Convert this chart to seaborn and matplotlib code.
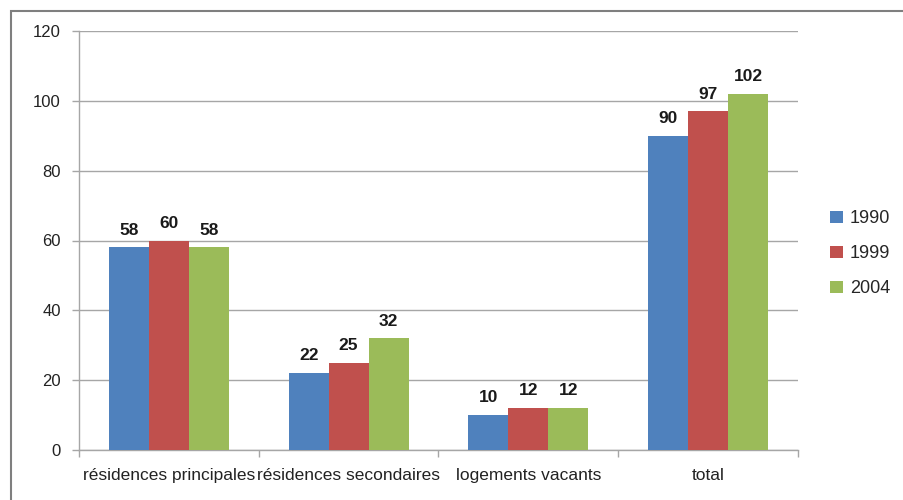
import numpy as np
import pandas as pd
import matplotlib
matplotlib.use("Agg")
import matplotlib.pyplot as plt
import seaborn as sns
from matplotlib.patches import Rectangle

# ------------------------------------------
# Data
# ------------------------------------------

categories = ["résidences principales", "résidences secondaires",
              "logements vacants", "total"]
years = ["1990", "1999", "2004"]
values_1990 = [58, 22, 10, 90]
values_1999 = [60, 25, 12, 97]
values_2004 = [58, 32, 12, 102]
yticks = [0, 20, 40, 60, 80, 100, 120]

colors = ["#4F81BD", "#C0504D", "#9BBB59"]

rows = []
for year, vals in zip(years, [values_1990, values_1999, values_2004]):
    for cat, v in zip(categories, vals):
        rows.append({"categorie": cat, "annee": year, "valeur": v})
df = pd.DataFrame(rows)

# ------------------------------------------
# Plot
# ------------------------------------------

sns.set_theme(style="white")
plt.rcParams["font.family"] = ["Liberation Sans", "DejaVu Sans"]

fig = plt.figure(figsize=(9.04, 5), dpi=100)
ax = fig.add_axes([79 / 904, 50 / 500, 719 / 904, 419 / 500])

sns.barplot(data=df, x="categorie", y="valeur", hue="annee",
            palette=colors, width=2 / 3, saturation=1,
            linewidth=0, ax=ax, zorder=3)

for cont in ax.containers:
    ax.bar_label(cont, padding=7, fontsize=12.5, fontweight="bold",
                 color="#1a1a1a")

ax.set_xlim(-0.5, 3.5)
ax.set_ylim(0, 120)
ax.set_yticks(yticks)
ax.set_xlabel("")
ax.set_ylabel("")
ax.yaxis.grid(True, color="#a6a6a6", linewidth=1, zorder=0)

ax.tick_params(axis="y", labelsize=12, length=5, width=1, color="#a6a6a6",
               direction="out", left=True, pad=8, labelcolor="#222222")
ax.tick_params(axis="x", which="major", length=0, pad=13, labelsize=12.5,
               labelcolor="#222222")
ax.set_xticks(np.arange(-0.5, 4, 1), minor=True)
ax.tick_params(axis="x", which="minor", length=5, width=1, color="#a6a6a6",
               direction="out", bottom=True)

for side in ["top", "right"]:
    ax.spines[side].set_visible(False)
for side in ["left", "bottom"]:
    ax.spines[side].set_color("#a6a6a6")
    ax.spines[side].set_linewidth(1)

leg = ax.legend(loc="center left", bbox_to_anchor=(1.022, 0.468),
                frameon=False, fontsize=13, handlelength=0.7,
                handleheight=0.7, handletextpad=0.4, labelspacing=1.0,
                title=None)

# outer chart frame
fig.patches.append(Rectangle((11 / 904, -0.05), 1.0, 1 - 11 / 500 + 0.05,
                             transform=fig.transFigure, fill=False,
                             edgecolor="#7f7f7f", linewidth=1.5))

fig.savefig("out.png", dpi=100)
